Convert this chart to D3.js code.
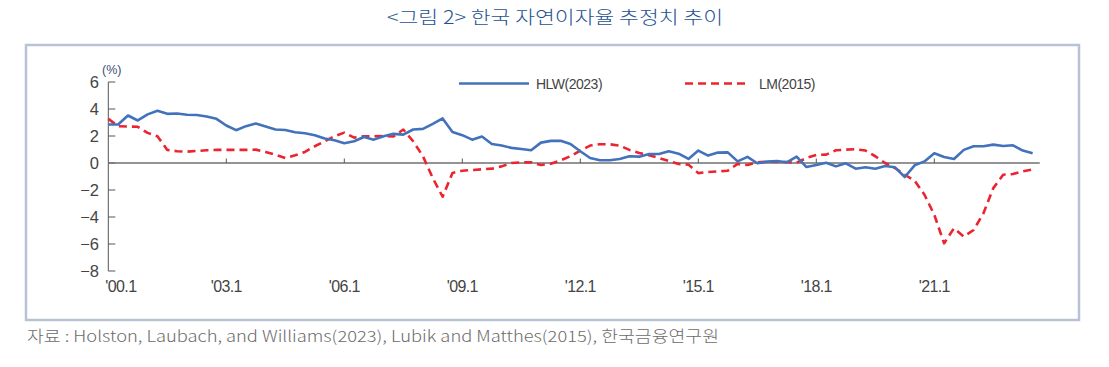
<!DOCTYPE html>
<html>
<head>
<meta charset="utf-8">
<script src="https://cdn.jsdelivr.net/npm/d3@7"></script>
<style>
  html, body { margin: 0; padding: 0; background: #fff; }
  svg { display: block; }
</style>
</head>
<body>
<svg id="chart"></svg>
<script>
/* 한국 자연이자율 추정치 추이: HLW(2023) vs LM(2015), quarterly 2000Q1-2023Q3 */
(function () {
    "use strict";

    // quarterly values, 2000Q1 .. 2023Q3 (%)
    var startYear = 2000;
    var hlw = [
        2.85, 2.85, 3.52, 3.15,
        3.60, 3.87, 3.64, 3.67,
        3.57, 3.55, 3.45, 3.27,
        2.78, 2.43, 2.73, 2.92,
        2.70, 2.48, 2.45, 2.28,
        2.20, 2.06, 1.81, 1.69,
        1.47, 1.61, 1.93, 1.73,
        1.98, 2.16, 2.10, 2.48,
        2.53, 2.90, 3.30, 2.30,
        2.06, 1.73, 1.96, 1.41,
        1.29, 1.12, 1.04, 0.94,
        1.51, 1.64, 1.64, 1.41,
        0.87, 0.37, 0.20, 0.20,
        0.30, 0.50, 0.47, 0.67,
        0.67, 0.87, 0.69, 0.30,
        0.92, 0.55, 0.77, 0.79,
        0.12, 0.45, -0.02, 0.10,
        0.15, 0.05, 0.47, -0.30,
        -0.15, 0.02, -0.25, -0.02,
        -0.42, -0.32, -0.42, -0.22,
        -0.32, -1.04, -0.17, 0.12,
        0.72, 0.45, 0.30, 0.97,
        1.24, 1.24, 1.36, 1.26,
        1.31, 0.92, 0.72
    ];
    var lm = [
        3.27, 2.73, 2.70, 2.68,
        2.23, 1.98, 0.97, 0.87,
        0.84, 0.89, 0.94, 0.97,
        0.97, 0.97, 0.97, 0.99,
        0.82, 0.62, 0.37, 0.57,
        0.82, 1.24, 1.61, 1.98,
        2.25, 1.88, 1.98, 1.98,
        2.00, 1.96, 2.48, 1.61,
        0.50, -1.12, -2.50, -0.74,
        -0.57, -0.52, -0.47, -0.42,
        -0.25, 0.00, 0.05, 0.05,
        -0.15, -0.05, 0.20, 0.50,
        0.92, 1.29, 1.39, 1.39,
        1.29, 0.97, 0.74, 0.57,
        0.37, 0.15, -0.07, -0.12,
        -0.75, -0.67, -0.62, -0.57,
        -0.07, -0.15, 0.05, 0.10,
        0.10, 0.07, 0.02, 0.37,
        0.60, 0.62, 0.94, 0.99,
        1.02, 0.92, 0.50, 0.00,
        -0.37, -0.87, -1.31, -2.35,
        -3.84, -5.95, -4.83, -5.45,
        -4.96, -3.72, -1.86, -0.87,
        -0.82, -0.62, -0.47
    ];

    var xTickYears = [2000, 2003, 2006, 2009, 2012, 2015, 2018, 2021];
    var xTickLabels = ["'00.1", "'03.1", "'06.1", "'09.1", "'12.1", "'15.1", "'18.1", "'21.1"];
    var yTicks = [6, 4, 2, 0, -2, -4, -6, -8];

    var seriesNames = ["HLW(2023)", "LM(2015)"];
    var titleText = "<그림 2> 한국 자연이자율 추정치 추이";
    var sourceText = "자료 : Holston, Laubach, and Williams(2023), Lubik and Matthes(2015), 한국금융연구원";

    var width = 1109, height = 367;
    var numFont = "'Liberation Sans', Arial, sans-serif";
    var krFont = "'Noto Sans CJK KR', 'Noto Sans', sans-serif";

    var svg = d3.select("#chart")
        .attr("width", width)
        .attr("height", height)
        .attr("viewBox", "0 0 " + width + " " + height);

    var x = d3.scaleLinear().domain([2000, 2021]).range([108.3, 934.3]);
    var y = d3.scaleLinear().domain([-8, 6]).range([271.0, 82.0]);

    function qx(i) { return x(startYear + i / 4); }

    // title
    svg.append("text")
        .attr("x", 555).attr("y", 24)
        .attr("text-anchor", "middle")
        .attr("font-family", krFont)
        .attr("font-size", 18.5)
        .attr("font-weight", 300)
        .attr("fill", "#24528f")
        .attr("textLength", 336)
        .attr("lengthAdjust", "spacingAndGlyphs")
        .text(titleText);

    // frame
    svg.append("rect")
        .attr("x", 26).attr("y", 45)
        .attr("width", 1053).attr("height", 275)
        .attr("fill", "none")
        .attr("stroke", "#b9c1d7")
        .attr("stroke-width", 2.5);

    // source
    svg.append("text")
        .attr("x", 27).attr("y", 342)
        .attr("font-family", krFont)
        .attr("font-size", 15.5)
        .attr("font-weight", 300)
        .attr("fill", "#6b6b6b")
        .attr("textLength", 692)
        .attr("lengthAdjust", "spacingAndGlyphs")
        .text(sourceText);

    var plot = svg.append("g");

    // y axis: line on the left, short ticks pointing into the plot
    plot.append("line")
        .attr("x1", x(2000)).attr("x2", x(2000))
        .attr("y1", y(6)).attr("y2", y(-8))
        .attr("stroke", "#555").attr("stroke-width", 1);

    plot.selectAll(".ytick")
        .data(yTicks)
        .join("line")
        .attr("class", "ytick")
        .attr("x1", x(2000)).attr("x2", x(2000) + 7)
        .attr("y1", function (d) { return y(d); })
        .attr("y2", function (d) { return y(d); })
        .attr("stroke", "#555").attr("stroke-width", 1);

    plot.selectAll(".ylab")
        .data(yTicks)
        .join("text")
        .attr("class", "ylab")
        .attr("x", 99)
        .attr("y", function (d) { return y(d); })
        .attr("dy", "0.36em")
        .attr("text-anchor", "end")
        .attr("font-family", numFont)
        .attr("font-size", 16.5)
        .attr("fill", "#444")
        .text(function (d) { return d < 0 ? "\u2212" + Math.abs(d) : String(d); });

    plot.append("text")
        .attr("x", 102).attr("y", 74)
        .attr("font-family", numFont)
        .attr("font-size", 12.5)
        .attr("fill", "#3a4f75")
        .text("(%)");

    // zero line with ticks above it
    plot.append("line")
        .attr("x1", x(2000)).attr("x2", x(2023.68))
        .attr("y1", y(0)).attr("y2", y(0))
        .attr("stroke", "#707070").attr("stroke-width", 1.6);

    plot.selectAll(".xtick")
        .data(xTickYears.slice(1))
        .join("line")
        .attr("class", "xtick")
        .attr("x1", function (d) { return x(d); })
        .attr("x2", function (d) { return x(d); })
        .attr("y1", y(0)).attr("y2", y(0) - 4.5)
        .attr("stroke", "#555").attr("stroke-width", 1);

    plot.selectAll(".xlab")
        .data(xTickYears)
        .join("text")
        .attr("class", "xlab")
        .attr("x", function (d, i) { return i === 0 ? x(d) - 3 : x(d); })
        .attr("y", 292)
        .attr("text-anchor", function (d, i) { return i === 0 ? "start" : "middle"; })
        .attr("font-family", numFont)
        .attr("font-size", 16)
        .attr("letter-spacing", -0.6)
        .attr("fill", "#444")
        .text(function (d, i) { return xTickLabels[i]; });

    var line = d3.line()
        .x(function (d, i) { return qx(i); })
        .y(function (d) { return y(d); });

    plot.append("path")
        .datum(lm)
        .attr("d", line)
        .attr("fill", "none")
        .attr("stroke", "#ea2530")
        .attr("stroke-width", 2.6)
        .attr("stroke-dasharray", "8,5")
        .attr("stroke-linejoin", "round");

    plot.append("path")
        .datum(hlw)
        .attr("d", line)
        .attr("fill", "none")
        .attr("stroke", "#4272bb")
        .attr("stroke-width", 2.6)
        .attr("stroke-linejoin", "round");

    // legend
    var legend = [
        { name: seriesNames[0], x0: 459, x1: 529, tx: 536, colour: "#4272bb", dash: null },
        { name: seriesNames[1], x0: 685, x1: 748, tx: 759, colour: "#ea2530", dash: "8,5" }
    ];
    var lg = svg.append("g").selectAll("g").data(legend).join("g");
    lg.append("line")
        .attr("x1", function (d) { return d.x0; })
        .attr("x2", function (d) { return d.x1; })
        .attr("y1", 83.5).attr("y2", 83.5)
        .attr("stroke", function (d) { return d.colour; })
        .attr("stroke-width", 2.6)
        .attr("stroke-dasharray", function (d) { return d.dash; });
    lg.append("text")
        .attr("x", function (d) { return d.tx; })
        .attr("y", 83.5)
        .attr("dy", "0.36em")
        .attr("font-family", numFont)
        .attr("font-size", 14)
        .attr("letter-spacing", -0.5)
        .attr("fill", "#444")
        .text(function (d) { return d.name; });
})();
</script>
</body>
</html>
